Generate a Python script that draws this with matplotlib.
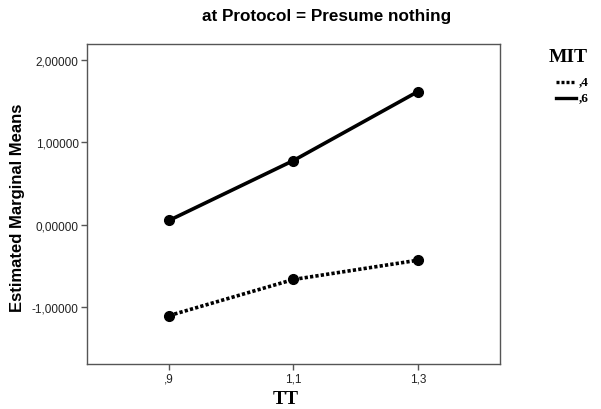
import matplotlib
matplotlib.use("Agg")
import matplotlib.pyplot as plt
from matplotlib.lines import Line2D

# categories (TT levels) and estimated marginal means per MIT group
tt_levels = [",9", "1,1", "1,3"]
mit_04 = [-1.11, -0.67, -0.435]
mit_06 = [0.05, 0.78, 1.62]
y_ticks = [-1.0, 0.0, 1.0, 2.0]
y_tick_labels = ["-1,00000", "0,00000", "1,00000", "2,00000"]

fig = plt.figure(figsize=(6.01, 4.10), dpi=100)
ax = fig.add_axes([87 / 601, 45 / 410, 413 / 601, 320 / 410])

x = list(range(len(tt_levels)))
ax.plot(x, mit_04, color="black", linewidth=2.6, linestyle=(0, (0.9, 0.6)),
        marker="o", markersize=7, solid_capstyle="butt", dash_capstyle="butt")
ax.plot(x, mit_06, color="black", linewidth=2.6, linestyle="-",
        marker="o", markersize=7)

ax.set_xlim(-0.66, 2.66)
ax.set_ylim(-1.70, 2.20)
ax.set_xticks(x)
ax.set_xticklabels(tt_levels)
ax.set_yticks(y_ticks)
ax.set_yticklabels(y_tick_labels)

for sp in ax.spines.values():
    sp.set_color("#555555")
    sp.set_linewidth(1.0)
ax.tick_params(direction="out", length=4, width=1, color="#555555",
               labelsize=8.5, labelcolor="#222222", pad=2)
for lab in ax.get_xticklabels() + ax.get_yticklabels():
    lab.set_family("Liberation Sans")

fig.text(18 / 601, 1 - 208 / 410, "Estimated Marginal Means", rotation=90,
         ha="center", va="center", fontsize=12, fontweight="bold",
         family="Liberation Sans")

fig.text(327 / 601, 1 - 17 / 410, "at Protocol = Presume nothing",
         ha="center", va="center", fontsize=12.3, fontweight="bold",
         family="Liberation Sans")
fig.text(286 / 601, 1 - 400 / 410, "TT", ha="center", va="center",
         fontsize=14, fontweight="bold", family="Liberation Serif")

# legend drawn by hand to match the SPSS layout
fig.text(568 / 601, 1 - 58 / 410, "MIT", ha="center", va="center",
         fontsize=14, fontweight="bold", family="Liberation Serif")
fig.add_artist(Line2D([556 / 601, 576 / 601], [1 - 83 / 410, 1 - 83 / 410],
                      color="black", linewidth=2.4, linestyle=(0, (0.9, 0.6)),
                      dash_capstyle="butt", transform=fig.transFigure))
fig.add_artist(Line2D([556 / 601, 576 / 601], [1 - 99 / 410, 1 - 99 / 410],
                      color="black", linewidth=2.4, transform=fig.transFigure))
fig.text(579 / 601, 1 - 82 / 410, ",4", ha="left", va="center",
         fontsize=9.5, fontweight="bold", family="Liberation Serif")
fig.text(579 / 601, 1 - 98 / 410, ",6", ha="left", va="center",
         fontsize=9.5, fontweight="bold", family="Liberation Serif")

fig.savefig("out.png", dpi=100)
